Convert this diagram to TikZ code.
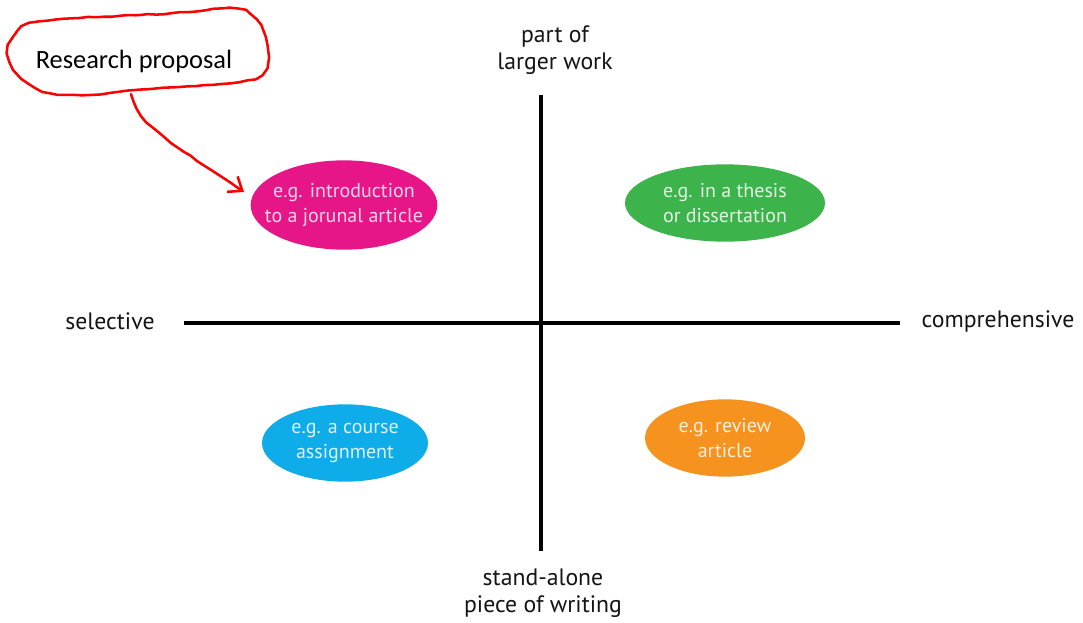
\documentclass[tikz,border=0pt]{standalone}
\usepackage{fontspec}
\setmainfont{PT Sans}
\newfontfamily\calloutfont{Carlito}
\usetikzlibrary{shapes.geometric,arrows.meta,decorations.pathmorphing}

\definecolor{qpink}{RGB}{230,22,136}
\definecolor{qgreen}{RGB}{60,180,75}
\definecolor{qblue}{RGB}{14,172,232}
\definecolor{qorange}{RGB}{246,146,30}
\definecolor{penred}{RGB}{255,0,0}

\begin{document}
\begin{tikzpicture}[x=0.75pt,y=-0.75pt,
  axis/.style={line width=2.5pt,black},
  axislabel/.style={font=\fontsize{17.8}{20.5}\selectfont,align=center,text=black!92,inner sep=0pt},
  blob/.style={ellipse,inner xsep=-30pt,inner ysep=0pt,font=\fontsize{15}{18.5}\selectfont,align=center},
  pen/.style={penred,line width=1.9pt,line cap=round,line join=round},
  wobbly/.style={decorate,decoration={random steps,segment length=6pt,amplitude=0.45pt,post length=8pt}}]
\useasboundingbox (0,0) rectangle (1083,622);
\pgfmathsetseed{7}

% axes
\coordinate (ytop) at (541,95);
\coordinate (ybot) at (541,551);
\coordinate (xleft) at (184,323);
\coordinate (xright) at (900,323);
\draw[axis] (ytop) -- (ybot);
\draw[axis] (xleft) -- (xright);

% axis labels
\node[axislabel] (larger) at (555,50) {part of\\larger work};
\node[axislabel] (alone) at (543,593) {stand-alone\\piece of writing};
\node[axislabel] (selective) at (110,321) {selective};
\node[axislabel] (compr) at (998,321) {comprehensive};

% quadrant examples
\node[blob,fill=qpink,text=white!82!qpink,minimum width=140pt,minimum height=67pt] (pink) at (344,205) {e.g. introduction\\to a jorunal article};
\node[blob,fill=qgreen,text=white!85!qgreen,minimum width=150pt,minimum height=58pt] (green) at (725,203) {e.g. in a thesis\\or dissertation};
\node[blob,fill=qblue,text=white!85!qblue,minimum width=124.5pt,minimum height=58pt] (blue) at (345,443) {e.g. a course\\assignment};
\node[blob,fill=qorange,text=white!85!qorange,minimum width=120pt,minimum height=58pt] (orange) at (725,438) {e.g. review\\article};

% hand-drawn callout
\node[font=\calloutfont\fontsize{19.8}{22}\selectfont,inner sep=0pt] (callout) at (134,61) {Research proposal};
\draw[pen,wobbly] plot[smooth cycle,tension=0.6] coordinates {
  (127,91) (90,95) (50,93) (28,83) (14,69) (8,53) (13,38) (22,27) (40,22)
  (80,18) (140,15) (190,12) (230,8) (250,14) (263,30) (268,50) (266,68)
  (255,78) (220,84) (180,87) (135,90)};
\coordinate (tail) at (131,94);
\coordinate (tip) at (244,192);
\draw[pen,wobbly,-{Straight Barb[length=9pt,width=14pt,line width=1.9pt]}]
  (tail) .. controls (142,128) and (165,138) .. (tip);
\end{tikzpicture}
\end{document}
